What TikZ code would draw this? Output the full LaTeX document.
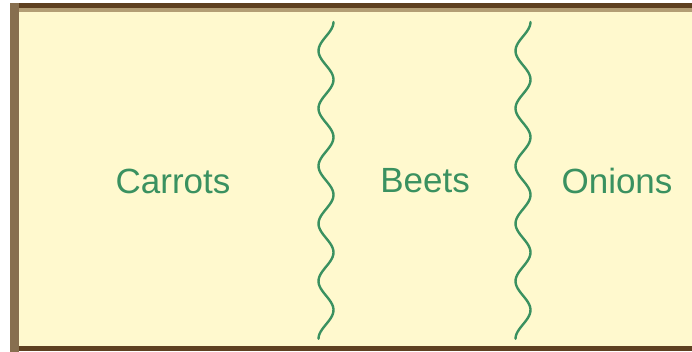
\documentclass[tikz,border=0pt]{standalone}
\usepackage{fontspec}
\setmainfont{Liberation Sans}
\usepackage{tikz}
\usetikzlibrary{positioning}
\definecolor{bedfill}{RGB}{255,249,206}
\definecolor{bedbrown}{RGB}{94,64,32}
\definecolor{bedtan}{RGB}{179,158,117}
\definecolor{bedside}{RGB}{135,111,79}
\definecolor{rowgreen}{RGB}{58,145,96}

\begin{document}
\begin{tikzpicture}[x=1pt,y=-1pt,
  rowlabel/.style={font=\fontsize{35}{42}\selectfont,text=rowgreen,inner sep=0pt},
  rowline/.style={draw=rowgreen,line width=2.4pt,line cap=round}]
\useasboundingbox (0,0) rectangle (692,352);
% garden bed
\fill[bedfill] (19,12) rectangle (692,346);
\fill[bedbrown] (15,3) rectangle (692,8.3);
\fill[bedtan] (19,8.3) rectangle (692,12);
\fill[bedbrown] (15,346) rectangle (692,351);
\fill[bedside] (10,3) rectangle (19,352);
% wavy row separators
\foreach \wx in {326,523}
  \draw[rowline] plot[domain=0:5.5,samples=140,smooth,variable=\t] ({\wx+7.5*cos(360*\t)},{22+57.6*\t});
% crops
\node[rowlabel] (carrots) at (173,181) {Carrots};
\node[rowlabel] (beets) at (425,181) {Beets};
\node[rowlabel] (onions) at (617,181) {Onions};
\end{tikzpicture}
\end{document}
